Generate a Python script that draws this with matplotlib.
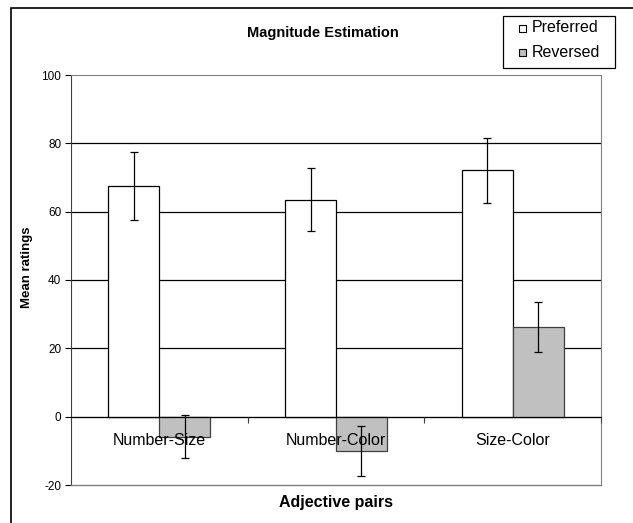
import numpy as np
import matplotlib.pyplot as plt
from matplotlib.patches import Rectangle

plt.rcParams['font.family'] = ['Liberation Sans', 'DejaVu Sans']
plt.rcParams['axes.unicode_minus'] = False

# ── Data ──────────────────────────────────────────────────────────────
pairs = ["Number-Size", "Number-Color", "Size-Color"]
series = ["Preferred", "Reversed"]
preferred = [67.6, 63.5, 72.1]
preferred_err = [9.9, 9.2, 9.6]
reversed_ = [-5.9, -10.0, 26.2]
reversed_err = [6.3, 7.4, 7.3]
yticks = [-20, 0, 20, 40, 60, 80, 100]

FILL = {"Preferred": "white", "Reversed": "#C0C0C0"}
BORDER = "#808080"

W, H = 633, 523
fig = plt.figure(figsize=(W / 100, H / 100), dpi=100)
ax = fig.add_axes([71 / W, 1 - 485 / H, (601 - 71) / W, (485 - 75) / H])

x = np.arange(len(pairs))
bw = 0.288
err_kw = dict(ecolor="black", elinewidth=0.9, capsize=3, capthick=0.9)
ax.bar(x - bw / 2, preferred, bw, yerr=preferred_err, color=FILL["Preferred"],
       edgecolor="black", linewidth=0.9, error_kw=err_kw, zorder=2)
ax.bar(x + bw / 2, reversed_, bw, yerr=reversed_err, color=FILL["Reversed"],
       edgecolor="#404040", linewidth=0.9, error_kw=err_kw, zorder=2)

# ── Axes styling ──────────────────────────────────────────────────────
ax.set_xlim(-0.5, 2.5)
ax.set_ylim(-20, 100)
ax.set_yticks(yticks)
ax.tick_params(axis="y", direction="out", length=4, width=0.8, pad=3,
               labelsize=8.5, color="black")
ax.set_xticks([0.5, 1.5, 2.5])
ax.set_xticklabels([])
ax.set_xticks(x, minor=True)
ax.set_xticklabels(pairs, minor=True)
ax.tick_params(axis="x", which="major", direction="out", length=4, width=0.8,
               color="#404040")
ax.tick_params(axis="x", which="minor", length=0, pad=12, labelsize=11.5)

ax.set_axisbelow(True)
ax.grid(axis="y", color="black", linewidth=0.9)
gl = ax.yaxis.get_gridlines()
gl[0].set_visible(False)
gl[-1].set_visible(False)
# category labels sit on top of the bars, as in the original
ax.xaxis.set_zorder(4)

ax.spines["bottom"].set_position(("data", 0))
ax.spines["bottom"].set_color("black")
ax.spines["bottom"].set_zorder(3)
ax.spines["left"].set_color("#404040")
for s in ("top", "right"):
    ax.spines[s].set_color(BORDER)
ax.axhline(-20, color=BORDER, linewidth=1.0, clip_on=False, zorder=3)

# ── Texts ─────────────────────────────────────────────────────────────
fig.text(323 / W, 1 - 33 / H, "Magnitude Estimation", ha="center", va="center",
         fontsize=10.5, fontweight="bold")
fig.text(27 / W, 1 - 267 / H, "Mean ratings", ha="center", va="center",
         rotation=90, fontsize=9.5, fontweight="bold")
fig.text(336 / W, 1 - 502 / H, "Adjective pairs", ha="center", va="center",
         fontsize=11.5, fontweight="bold")

# ── Legend box ────────────────────────────────────────────────────────
fig.add_artist(Rectangle((503 / W, 1 - 68 / H), 112 / W, 52 / H, fill=False,
                         edgecolor="black", linewidth=0.9,
                         transform=fig.transFigure))
for i, name in enumerate(series):
    yc = 28 + i * 24.7
    fig.add_artist(Rectangle((519 / W, 1 - (yc + 3.5) / H), 7 / W, 7 / H,
                             facecolor=FILL[name], edgecolor="black",
                             linewidth=0.8, transform=fig.transFigure))
    fig.text(532 / W, 1 - yc / H, name, ha="left", va="center", fontsize=11.5)

# ── Outer chart frame (cropped) ───────────────────────────────────────
fig.add_artist(Rectangle((11 / W, -0.1), 1.2, 1.1 - 8 / H, fill=False,
                         edgecolor="black", linewidth=1.2,
                         transform=fig.transFigure))

fig.savefig("out.png", dpi=100)
